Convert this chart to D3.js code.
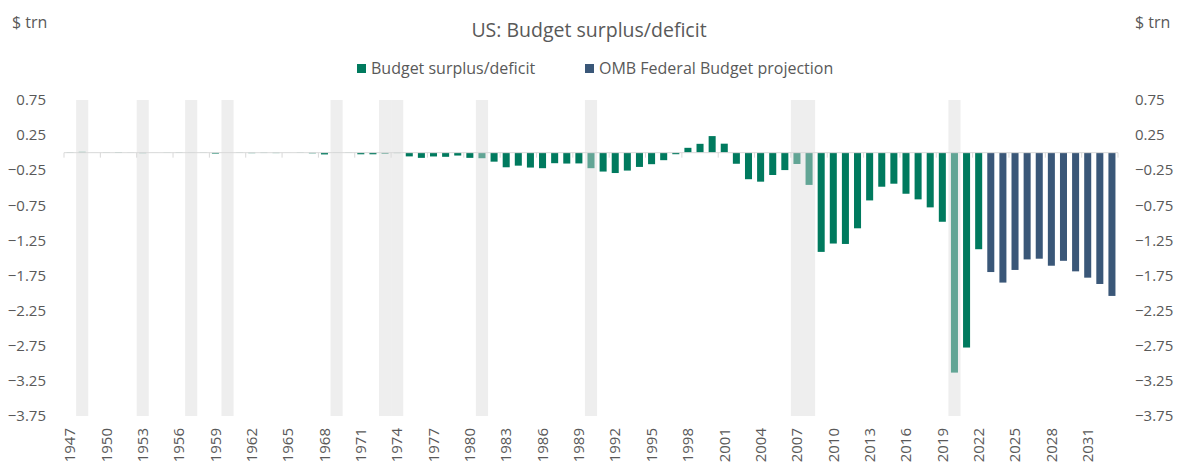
<!DOCTYPE html>
<html>
<head>
<meta charset="utf-8">
<script src="https://cdn.jsdelivr.net/npm/d3@7"></script>
<style>
  body { margin: 0; background: #fff; }
  text { font-family: "Open Sans", "Noto Sans", sans-serif; fill: #595959; }
</style>
</head>
<body>
<svg id="chart" width="1178" height="466"></svg>
<script>
// Fiscal years, $ trn
const firstYear = 1947;

// Budget surplus/deficit, 1947-2022
const actual = [
  0.004, 0.012, 0.001, -0.003, 0.006, -0.002, -0.007, -0.001, -0.003, 0.004,
  0.003, -0.003, -0.013, 0.000, -0.003, -0.007, -0.005, -0.006, -0.001, -0.004,
  -0.009, -0.025, 0.003, -0.003, -0.023, -0.023, -0.015, -0.006, -0.053, -0.074,
  -0.054, -0.059, -0.041, -0.074, -0.079, -0.128, -0.208, -0.185, -0.212, -0.221,
  -0.150, -0.155, -0.153, -0.221, -0.269, -0.290, -0.255, -0.203, -0.164, -0.107,
  -0.022, 0.069, 0.126, 0.236, 0.128, -0.158, -0.378, -0.413, -0.318, -0.248,
  -0.161, -0.459, -1.413, -1.294, -1.300, -1.077, -0.680, -0.485, -0.442, -0.585,
  -0.665, -0.779, -0.984, -3.132, -2.775, -1.375
];

// OMB Federal Budget projection, 2023-2033
const projection = [-1.70, -1.85, -1.67, -1.52, -1.51, -1.61, -1.54, -1.69, -1.78, -1.87, -2.04];

// recession shading
const recessionYears = [1948, 1953, 1957, 1960, 1969, 1973, 1974, 1981, 1990, 2007, 2008, 2020];

const yTicks = [0.75, 0.25, -0.25, -0.75, -1.25, -1.75, -2.25, -2.75, -3.25, -3.75];

const seriesNames = ['Budget surplus/deficit', 'OMB Federal Budget projection'];
const seriesColors = ['#007a5e', '#3a5778'];

// Build rows
const rows = [];
actual.forEach((v, i) => rows.push({ year: firstYear + i, value: v, series: 0 }));
projection.forEach((v, i) => rows.push({ year: firstYear + actual.length + i, value: v, series: 1 }));
const years = rows.map(d => d.year);
const labelYears = years.filter((y, i) => i % 3 === 0);

const svg = d3.select('#chart');
const plot = { left: 64, right: 1118, top: 100, bottom: 416 };

const x = d3.scaleBand()
    .domain(years)
    .range([plot.left, plot.right])
    .paddingInner(0.42)
    .paddingOuter(0.21);

const xCat = d3.scaleBand()
    .domain(years)
    .range([plot.left, plot.right]);

const y = d3.scaleLinear()
    .domain([-3.75, 0.75])
    .range([plot.bottom, plot.top]);

// Title
svg.append('text')
    .attr('x', 589)
    .attr('y', 37)
    .attr('text-anchor', 'middle')
    .attr('font-size', 19.5)
    .text('US: Budget surplus/deficit');

// Unit labels
svg.append('text').attr('x', 12).attr('y', 28).attr('font-size', 16).text('$ trn');
svg.append('text').attr('x', 1135).attr('y', 28).attr('font-size', 16).text('$ trn');

// Legend
const legendX = [357, 585];
const legend = svg.append('g');
seriesNames.forEach((name, i) => {
    const g = legend.append('g').attr('transform', `translate(${legendX[i]},0)`);
    g.append('rect').attr('x', 0).attr('y', 64).attr('width', 9).attr('height', 9).attr('fill', seriesColors[i]);
    g.append('text').attr('x', 14).attr('y', 74).attr('font-size', 16).text(name);
});

// Y axes (left and right)
svg.append('g')
    .selectAll('text')
    .data(yTicks)
    .join('text')
    .attr('x', 46)
    .attr('y', d => y(d))
    .attr('dy', '0.35em')
    .attr('text-anchor', 'end')
    .attr('font-size', 15)
    .text(d => d3.format('.2f')(d));

svg.append('g')
    .selectAll('text')
    .data(yTicks)
    .join('text')
    .attr('x', 1135)
    .attr('y', d => y(d))
    .attr('dy', '0.35em')
    .attr('font-size', 15)
    .text(d => d3.format('.2f')(d));

// Bars
svg.append('g')
    .selectAll('rect')
    .data(rows)
    .join('rect')
    .attr('x', d => x(d.year))
    .attr('width', x.bandwidth())
    .attr('y', d => Math.min(y(d.value), y(0)))
    .attr('height', d => Math.abs(y(d.value) - y(0)))
    .attr('fill', d => seriesColors[d.series]);

// Zero axis line and tick marks
const axisG = svg.append('g');
axisG.append('line')
    .attr('x1', plot.left).attr('x2', plot.right)
    .attr('y1', y(0)).attr('y2', y(0))
    .attr('stroke', '#d9d9d9').attr('stroke-width', 1);
axisG.selectAll('line.tick')
    .data(labelYears)
    .join('line')
    .attr('class', 'tick')
    .attr('x1', d => xCat(d)).attr('x2', d => xCat(d))
    .attr('y1', y(0)).attr('y2', y(0) + 5)
    .attr('stroke', '#d9d9d9');
axisG.append('line')
    .attr('x1', plot.right).attr('x2', plot.right)
    .attr('y1', y(0)).attr('y2', y(0) + 5)
    .attr('stroke', '#d9d9d9');

// Recession shading over bars
svg.append('g')
    .selectAll('rect')
    .data(recessionYears)
    .join('rect')
    .attr('x', d => xCat(d))
    .attr('width', xCat.bandwidth())
    .attr('y', plot.top)
    .attr('height', plot.bottom - plot.top)
    .attr('fill', '#d9d9d9')
    .attr('opacity', 0.45);

// X labels, rotated
svg.append('g')
    .selectAll('text')
    .data(labelYears)
    .join('text')
    .attr('transform', d => `translate(${xCat(d) + xCat.bandwidth() / 2},428) rotate(-90)`)
    .attr('dy', '0.35em')
    .attr('text-anchor', 'end')
    .attr('font-size', 15)
    .text(d => d);
</script>
</body>
</html>
